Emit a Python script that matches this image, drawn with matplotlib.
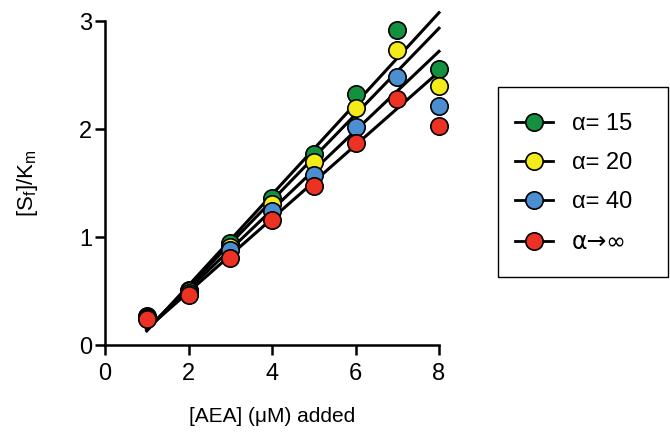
import matplotlib
matplotlib.use('Agg')
import matplotlib.pyplot as plt
from matplotlib.patches import Rectangle
from matplotlib.lines import Line2D
import numpy as np

plt.rcParams['font.family'] = ['Liberation Sans', 'DejaVu Sans']
plt.rcParams['mathtext.fontset'] = 'custom'
plt.rcParams['mathtext.rm'] = 'Liberation Sans'

aea = [1, 2, 3, 4, 5, 6, 7, 8]
labels = ['\u03b1= 15', '\u03b1= 20', '\u03b1= 40', '\u03b1\u2192\u221e']
colors = ['#13913f', '#f4ec19', '#4b8fd1', '#ec3323']

sf_a15 = [0.27, 0.51, 0.94, 1.36, 1.77, 2.32, 2.92, 2.56]
sf_a20 = [0.26, 0.50, 0.91, 1.31, 1.69, 2.19, 2.73, 2.40]
sf_a40 = [0.25, 0.48, 0.88, 1.24, 1.57, 2.02, 2.48, 2.21]
sf_inf = [0.24, 0.46, 0.81, 1.16, 1.47, 1.87, 2.28, 2.03]
series = [sf_a15, sf_a20, sf_a40, sf_inf]

# linear fits (slope, intercept)
fit_slope = [0.421, 0.399, 0.367, 0.340]
fit_icpt = [-0.291, -0.259, -0.217, -0.190]
fit_x = np.array([1, 8])

fig = plt.figure(figsize=(6.7, 4.42), dpi=100)
ax = fig.add_axes((105/670, 1 - 345/442, (439 - 105)/670, (345 - 21)/442))

for s, b in zip(fit_slope, fit_icpt):
    ax.plot(fit_x, s*fit_x + b, color='black', lw=2.2, zorder=2, clip_on=False)

for ys, c in zip(series, colors):
    ax.plot(aea, ys, 'o', ms=12.5, mfc=c, mec='black', mew=1.2,
            zorder=3, clip_on=False)

ax.set_xlim(0, 8)
ax.set_ylim(0, 3)
ax.set_xticks([0, 2, 4, 6, 8])
ax.set_yticks([0, 1, 2, 3])
for side in ['top', 'right']:
    ax.spines[side].set_visible(False)
for side in ['left', 'bottom']:
    ax.spines[side].set_linewidth(1.8)
ax.tick_params(width=1.8, length=7, labelsize=17)
ax.tick_params(axis='x', pad=6)
ax.tick_params(axis='y', pad=2)

ax.set_xlabel('[AEA] (\u03bcM) added', fontsize=15, labelpad=16)
ax.set_ylabel(r'[S$_\mathregular{f}$]/K$_\mathregular{m}$', fontsize=16,
              labelpad=28)

handles = [Line2D([0], [0], color='black', lw=2, marker='o', ms=12.5,
                  mfc=c, mec='black', mew=1.2) for c in colors]
leg = fig.legend(handles, labels, loc='upper left',
                 bbox_to_anchor=(515/670, 1 - 113/442), frameon=False,
                 fontsize=17, handlelength=1.6, handletextpad=0.8,
                 labelspacing=0.72, borderpad=0, borderaxespad=0)
leg.get_texts()[3].set_fontfamily(['DejaVu Sans'])
fig.patches.append(Rectangle((498/670, 1 - 277/442), 170/670, 190/442,
                             transform=fig.transFigure, fill=False,
                             edgecolor='black', lw=1.0))

fig.savefig('out.png', dpi=100)
